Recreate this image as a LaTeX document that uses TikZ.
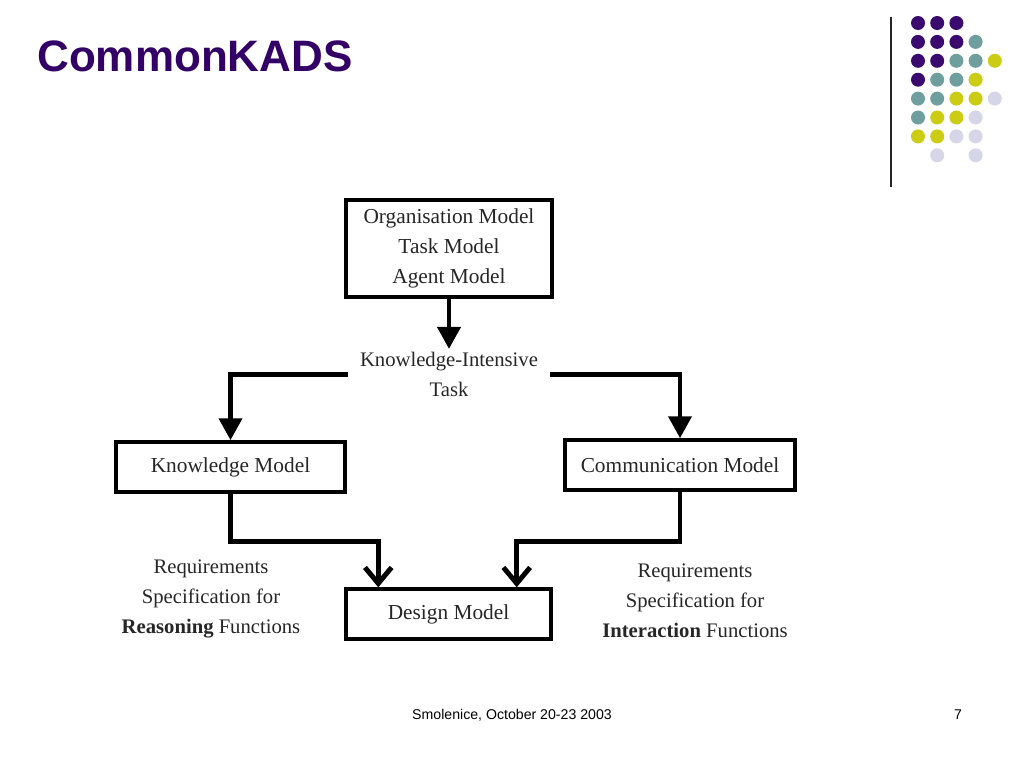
\documentclass[tikz,border=0pt]{standalone}
\usepackage{fontspec}
\setmainfont{Liberation Serif}
\newfontfamily\arialfont{Liberation Sans}
\usetikzlibrary{arrows.meta,calc}
\definecolor{kpurple}{HTML}{330066}
\definecolor{dpurple}{HTML}{3A0A6E}
\definecolor{dteal}{HTML}{6E9E9E}
\definecolor{dyellow}{HTML}{CCCC14}
\definecolor{dlav}{HTML}{D6D6E8}
\begin{document}
\begin{tikzpicture}[x=0.75pt,y=-0.75pt,
  box/.style={draw=black,line width=2.6pt,rectangle,inner sep=0pt,align=center,
    text=black!85,font=\fontsize{16}{22.5}\selectfont},
  lbl/.style={align=center,inner sep=0pt,text=black!85,font=\fontsize{15.5}{22.5}\selectfont},
  conn/.style={line width=3.7pt},
  fillhead/.style={-{Triangle[length=16.5pt,width=17pt]}},
  barbhead/.style={-{Straight Barb[length=12pt,width=20pt]}}
]
\useasboundingbox (0,0) rectangle (1024,768);
\fill[white] (0,0) rectangle (1024,768);

% title
\node[anchor=base west,inner sep=0pt,text=kpurple,font=\arialfont\bfseries\fontsize{33}{36}\selectfont] (title) at (37,71) {CommonKADS};

% decoration
\draw[line width=1.2pt,black!85] (891,17) -- (891,187);
\foreach \c/\r/\col in {0/0/dpurple,1/0/dpurple,2/0/dpurple,
  0/1/dpurple,1/1/dpurple,2/1/dpurple,3/1/dteal,
  0/2/dpurple,1/2/dpurple,2/2/dteal,3/2/dteal,4/2/dyellow,
  0/3/dpurple,1/3/dteal,2/3/dteal,3/3/dyellow,
  0/4/dteal,1/4/dteal,2/4/dyellow,3/4/dyellow,4/4/dlav,
  0/5/dteal,1/5/dyellow,2/5/dyellow,3/5/dlav,
  0/6/dyellow,1/6/dyellow,2/6/dlav,3/6/dlav,
  1/7/dlav,3/7/dlav}
  \fill[\col] ({918+19.2*\c},{23+18.9*\r}) circle (7);

% boxes
\node[box,minimum width=154.5pt,minimum height=72.75pt] (top) at (449,248.5)
  {Organisation Model\\Task Model\\Agent Model};
\node[lbl,inner xsep=9pt,inner ysep=2.25pt] (kit) at (449,374.5) {Knowledge-Intensive\\Task};
\node[box,minimum width=171.75pt,minimum height=37.5pt] (km) at (230.5,467) {Knowledge Model};
\node[box,minimum width=172.5pt,minimum height=37.5pt] (cm) at (680,465) {Communication Model};
\node[box,minimum width=153.75pt,minimum height=37.5pt] (dm) at (448.5,614) {Design Model};

% labels
\node[lbl] (rl) at (211,599) {Requirements\\Specification for\\\textbf{Reasoning} Functions};
\node[lbl] (rr) at (695,601) {Requirements\\Specification for\\\textbf{Interaction} Functions};

% connectors
\draw[conn,fillhead] (top.south) -- (top.south |- kit.north);
\draw[conn,fillhead] (kit.west) -| (km.north);
\draw[conn,fillhead] (kit.east) -| (cm.north);
\draw[conn,barbhead] (km.south) -- ++(0,48) -| ($(dm.north west)+(34,0)$);
\draw[conn,barbhead] (cm.south) -- ++(0,50) -| ($(dm.north east)+(-36,0)$);

% footer
\node[anchor=base,inner sep=0pt,font=\arialfont\fontsize{10.6}{12}\selectfont] (foot) at (512,719) {Smolenice, October 20-23 2003};
\node[anchor=base,inner sep=0pt,font=\arialfont\fontsize{10.6}{12}\selectfont] (pg) at (958,719) {7};
\end{tikzpicture}
\end{document}
